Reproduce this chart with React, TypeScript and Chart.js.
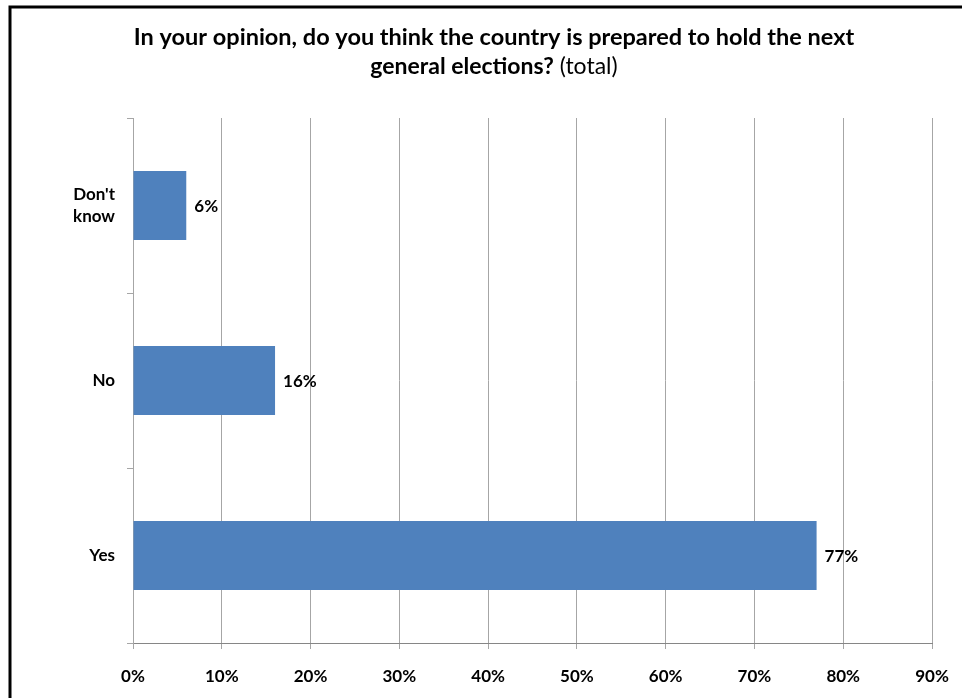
import React, { useEffect, useRef } from "react";
import { Chart, registerables } from "chart.js";

Chart.register(...registerables);

const categoryLabels: string[][] = [["Don't", "know"], ["No"], ["Yes"]];
const values: number[] = [6, 16, 77];
const xMin = 0;
const xMax = 90;
const xStep = 10;
const titleLine1 = "In your opinion, do you think the country is prepared to hold the next";
const titleLine2Bold = "general elections?";
const titleLine2Normal = " (total)";

const FONT = "Lato, 'Open Sans', sans-serif";

const framePlugin = {
  id: "frame",
  beforeDraw(chart: any) {
    const ctx = chart.ctx;
    ctx.save();
    ctx.fillStyle = "#ffffff";
    ctx.fillRect(0, 0, chart.width, chart.height);
    ctx.strokeStyle = "#000000";
    ctx.lineWidth = 3;
    ctx.beginPath();
    ctx.moveTo(10, chart.height + 5);
    ctx.lineTo(10, 7);
    ctx.lineTo(chart.width + 5, 7);
    ctx.stroke();
    ctx.restore();
  },
};

const titlePlugin = {
  id: "mixedTitle",
  afterDraw(chart: any) {
    const ctx = chart.ctx;
    const cx = 494;
    ctx.save();
    ctx.fillStyle = "#000000";
    ctx.textBaseline = "middle";
    ctx.textAlign = "left";
    ctx.font = `bold 23.5px ${FONT}`;
    const w1 = ctx.measureText(titleLine1).width;
    ctx.fillText(titleLine1, cx - w1 / 2, 37);
    ctx.font = `bold 23px ${FONT}`;
    const wb = ctx.measureText(titleLine2Bold).width;
    ctx.font = `23px ${FONT}`;
    const wn = ctx.measureText(titleLine2Normal).width;
    const start = cx - (wb + wn) / 2;
    ctx.font = `bold 23px ${FONT}`;
    ctx.fillText(titleLine2Bold, start, 67);
    ctx.font = `23px ${FONT}`;
    ctx.fillText(titleLine2Normal, start + wb, 67);
    ctx.restore();
  },
};

const valueLabelPlugin = {
  id: "valueLabels",
  afterDatasetsDraw(chart: any) {
    const ctx = chart.ctx;
    const meta = chart.getDatasetMeta(0);
    ctx.save();
    ctx.fillStyle = "#000000";
    ctx.font = `bold 17px ${FONT}`;
    ctx.textAlign = "left";
    ctx.textBaseline = "middle";
    meta.data.forEach((bar: any, i: number) => {
      ctx.fillText(values[i] + "%", bar.x + 8, bar.y + 1);
    });
    ctx.restore();
  },
};

export default function App() {
  const ref = useRef<HTMLCanvasElement | null>(null);

  useEffect(() => {
    if (!ref.current) return;
    const chart = new Chart(ref.current, {
      type: "bar",
      data: {
        labels: categoryLabels as any,
        datasets: [
          {
            data: values,
            backgroundColor: "#4F81BD",
            borderWidth: 0,
            categoryPercentage: 1,
            barPercentage: 0.395,
          },
        ],
      },
      options: {
        indexAxis: "y",
        animation: false,
        responsive: false,
        maintainAspectRatio: false,
        events: [],
        layout: { padding: { top: 118, right: 30, bottom: 0, left: 0 } },
        plugins: {
          legend: { display: false },
          title: { display: false },
          tooltip: { enabled: false },
        },
        scales: {
          x: {
            type: "linear",
            min: xMin,
            max: xMax,
            afterFit(scale: any) {
              scale.height = 55;
              scale.paddingRight = 0;
              scale.paddingLeft = 0;
            },
            ticks: {
              stepSize: xStep,
              padding: 17,
              color: "#000000",
              font: { family: FONT, size: 17, weight: "bold" },
              callback: (v: any) => v + "%",
            },
            grid: {
              color: "#a6a6a6",
              lineWidth: 1,
              tickLength: 6,
              drawTicks: true,
            },
            border: { color: "#868686", width: 1 },
          },
          y: {
            type: "category",
            offset: true,
            afterFit(scale: any) {
              scale.width = 133;
            },
            ticks: {
              padding: 12,
              color: "#000000",
              font: { family: FONT, size: 17, weight: "bold", lineHeight: 1.3 },
            },
            grid: {
              offset: true,
              drawOnChartArea: false,
              drawTicks: true,
              tickLength: 6,
              color: "#a6a6a6",
            },
            border: { color: "#a6a6a6", width: 1 },
          },
        },
      },
      plugins: [framePlugin, titlePlugin, valueLabelPlugin],
    });
    return () => chart.destroy();
  }, []);

  return (
    <div
      style={{
        position: "fixed",
        left: 0,
        top: 0,
        width: 962,
        height: 698,
        background: "#ffffff",
      }}
    >
      <canvas ref={ref} width={962} height={698} style={{ display: "block" }} />
    </div>
  );
}
